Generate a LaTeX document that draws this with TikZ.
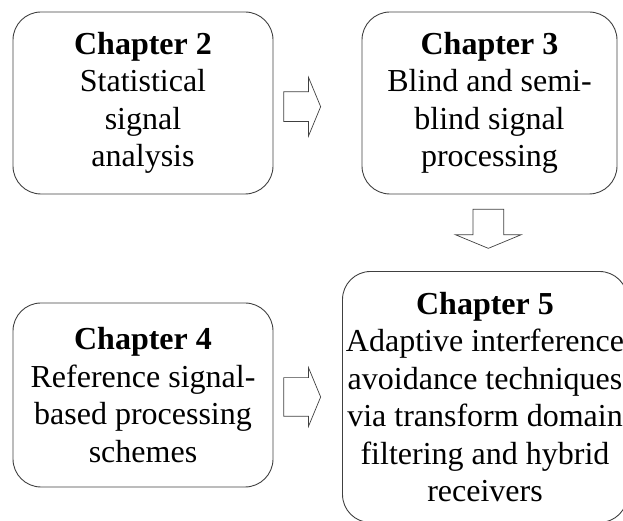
\documentclass[tikz,border=0pt]{standalone}
\usepackage{fontspec}
\setmainfont{Liberation Serif}
\usetikzlibrary{shapes.arrows}
\definecolor{edge}{rgb}{0.25, 0.25, 0.25}

\begin{document}
\begin{tikzpicture}[x=1pt,y=1pt,
    chapbox/.style={draw=edge,line width=0.9pt,rounded corners=28pt,inner sep=1pt,
      align=center,font=\fontsize{32}{37.5}\selectfont},
    blockarrow/.style={single arrow,draw=edge,line width=0.7pt,inner xsep=0pt,
      single arrow tip angle=135,minimum height=37pt}
  ]
  \clip (0,0) rectangle (623,521);
  \node[chapbox,minimum width=260pt,minimum height=182pt] (ch2) at (143,418)
    {\textbf{Chapter 2}\\Statistical\\signal\\analysis};
  \node[chapbox,minimum width=255pt,minimum height=182pt] (ch3) at (489.5,418)
    {\textbf{Chapter 3}\\Blind and semi-\\blind signal\\processing};
  \node[chapbox,minimum width=260pt,minimum height=184pt] (ch4) at (143,126)
    {\textbf{Chapter 4}\\Reference signal-\\based processing\\schemes};
  \node[chapbox,minimum width=285pt,minimum height=251pt] (ch5) at (485,124)
    {\textbf{Chapter 5}\\Adaptive interference\\avoidance techniques\\via transform domain\\filtering and hybrid\\receivers};
    % block arrows between the chapters
    \node[blockarrow,inner ysep=14.5pt,single arrow head extend=14.5pt,anchor=tail] (a23) at (283.3,414.3) {};
    \node[blockarrow,inner ysep=15pt,single arrow head extend=17.5pt,minimum height=39pt,
      rotate=-90,anchor=tail] (a35) at (488.3,312) {};
    \node[blockarrow,inner ysep=19pt,single arrow head extend=10pt,anchor=tail] (a45) at (283.3,124) {};
\end{tikzpicture}
\end{document}
